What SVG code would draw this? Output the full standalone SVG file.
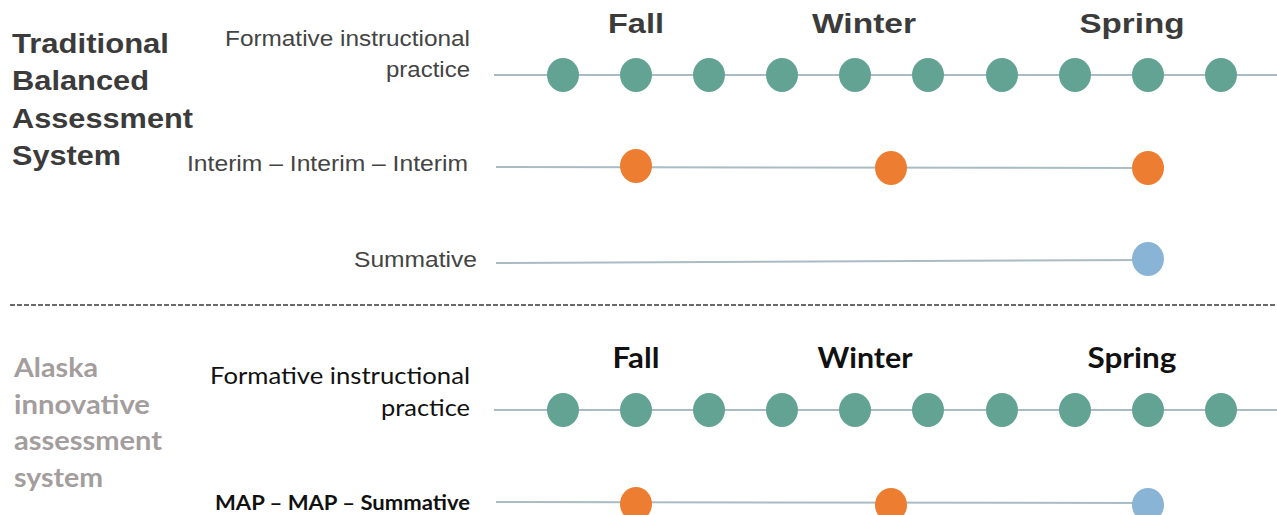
<svg xmlns="http://www.w3.org/2000/svg" width="1277" height="515" viewBox="0 0 1277 515">
<style>
.bg{fill:#ffffff}
.title1{font-family:"Liberation Sans",Arial,sans-serif;font-weight:bold;font-size:28px;fill:#3b3b3b}
.lab1{font-family:"Liberation Sans",Arial,sans-serif;font-size:22px;fill:#444444}
.season1{font-family:"Liberation Sans",Arial,sans-serif;font-weight:bold;font-size:28px;fill:#3b3b3b;text-anchor:middle}
.title2{font-family:Lato,"Open Sans",sans-serif;font-weight:bold;font-size:26px;fill:#a39d9d}
.lab2{font-family:Lato,"Open Sans",sans-serif;font-size:24px;fill:#111111}
.lab2b{font-family:Lato,"Open Sans",sans-serif;font-weight:bold;font-size:20px;fill:#111111}
.season2{font-family:Lato,"Open Sans",sans-serif;font-weight:bold;font-size:28px;fill:#111111;text-anchor:middle}
.r{text-anchor:end}
.line{stroke:#a9bcc4;stroke-width:2;fill:none}
.dash{stroke:#3a3a3a;stroke-width:1.3;stroke-dasharray:5,2;fill:none}
.t{fill:#62a394}
.o{fill:#ed7d31}
.b{fill:#89b4d6}
</style>
<rect class="bg" x="0" y="0" width="1277" height="515"/>

<g id="connectors">
  <line class="line" x1="494" y1="75" x2="1277" y2="75"/>
  <line class="line" x1="496" y1="167" x2="1150" y2="168"/>
  <line class="line" x1="496" y1="263" x2="1148" y2="260"/>
  <line class="dash" x1="10" y1="305" x2="1277" y2="305"/>
  <line class="line" x1="494" y1="410" x2="1277" y2="410"/>
  <line class="line" x1="496" y1="502" x2="1148" y2="503"/>
</g>

<g id="section-traditional">
  <text class="title1" x="12" y="53" textLength="157" lengthAdjust="spacingAndGlyphs">Traditional</text>
  <text class="title1" x="12" y="90" textLength="137" lengthAdjust="spacingAndGlyphs">Balanced</text>
  <text class="title1" x="12" y="128" textLength="181" lengthAdjust="spacingAndGlyphs">Assessment</text>
  <text class="title1" x="12" y="165" textLength="109" lengthAdjust="spacingAndGlyphs">System</text>
</g>
<g id="seasons-top">
  <text class="season1" x="636" y="33" textLength="56" lengthAdjust="spacingAndGlyphs">Fall</text>
  <text class="season1" x="864" y="33" textLength="104" lengthAdjust="spacingAndGlyphs">Winter</text>
  <text class="season1" x="1132" y="33" textLength="105" lengthAdjust="spacingAndGlyphs">Spring</text>
</g>
<g id="row-formative-top">
  <text class="lab1 r" x="470" y="46" textLength="245" lengthAdjust="spacingAndGlyphs">Formative instructional</text>
  <text class="lab1 r" x="470" y="77" textLength="84" lengthAdjust="spacingAndGlyphs">practice</text>
  <ellipse class="t" cx="563" cy="75" rx="16" ry="17"/>
  <ellipse class="t" cx="636" cy="75" rx="16" ry="17"/>
  <ellipse class="t" cx="709" cy="75" rx="16" ry="17"/>
  <ellipse class="t" cx="782" cy="75" rx="16" ry="17"/>
  <ellipse class="t" cx="855" cy="75" rx="16" ry="17"/>
  <ellipse class="t" cx="928" cy="75" rx="16" ry="17"/>
  <ellipse class="t" cx="1002" cy="75" rx="16" ry="17"/>
  <ellipse class="t" cx="1075" cy="75" rx="16" ry="17"/>
  <ellipse class="t" cx="1148" cy="75" rx="16" ry="17"/>
  <ellipse class="t" cx="1221" cy="75" rx="16" ry="17"/>
</g>
<g id="row-interim">
  <text class="lab1 r" x="468" y="171" textLength="281" lengthAdjust="spacingAndGlyphs">Interim – Interim – Interim</text>
  <ellipse class="o" cx="636" cy="166" rx="16" ry="17"/>
  <ellipse class="o" cx="891" cy="168" rx="16" ry="17"/>
  <ellipse class="o" cx="1148" cy="168" rx="16" ry="17"/>
</g>
<g id="row-summative">
  <text class="lab1 r" x="477" y="267" textLength="123" lengthAdjust="spacingAndGlyphs">Summative</text>
  <ellipse class="b" cx="1148" cy="259" rx="16" ry="17"/>
</g>

<g id="section-alaska">
  <text class="title2" x="14" y="377" textLength="84" lengthAdjust="spacingAndGlyphs">Alaska</text>
  <text class="title2" x="14" y="414" textLength="136" lengthAdjust="spacingAndGlyphs">innovative</text>
  <text class="title2" x="14" y="450" textLength="148" lengthAdjust="spacingAndGlyphs">assessment</text>
  <text class="title2" x="14" y="487" textLength="89" lengthAdjust="spacingAndGlyphs">system</text>
</g>
<g id="seasons-bottom">
  <text class="season2" x="636" y="368" textLength="47" lengthAdjust="spacingAndGlyphs">Fall</text>
  <text class="season2" x="865" y="368" textLength="95" lengthAdjust="spacingAndGlyphs">Winter</text>
  <text class="season2" x="1132" y="368" textLength="89" lengthAdjust="spacingAndGlyphs">Spring</text>
</g>
<g id="row-formative-bottom">
  <text class="lab2 r" x="470" y="384" textLength="260" lengthAdjust="spacingAndGlyphs">Formative instructional</text>
  <text class="lab2 r" x="470" y="416" textLength="89" lengthAdjust="spacingAndGlyphs">practice</text>
  <ellipse class="t" cx="563" cy="410" rx="16" ry="17"/>
  <ellipse class="t" cx="636" cy="410" rx="16" ry="17"/>
  <ellipse class="t" cx="709" cy="410" rx="16" ry="17"/>
  <ellipse class="t" cx="782" cy="410" rx="16" ry="17"/>
  <ellipse class="t" cx="855" cy="410" rx="16" ry="17"/>
  <ellipse class="t" cx="928" cy="410" rx="16" ry="17"/>
  <ellipse class="t" cx="1002" cy="410" rx="16" ry="17"/>
  <ellipse class="t" cx="1075" cy="410" rx="16" ry="17"/>
  <ellipse class="t" cx="1148" cy="410" rx="16" ry="17"/>
  <ellipse class="t" cx="1221" cy="410" rx="16" ry="17"/>
</g>
<g id="row-map">
  <text class="lab2b r" x="470" y="510" textLength="255" lengthAdjust="spacingAndGlyphs">MAP – MAP – Summative</text>
  <ellipse class="o" cx="636" cy="504" rx="16" ry="17"/>
  <ellipse class="o" cx="891" cy="505" rx="16" ry="17"/>
  <ellipse class="b" cx="1148" cy="505" rx="16" ry="17"/>
</g>
</svg>
